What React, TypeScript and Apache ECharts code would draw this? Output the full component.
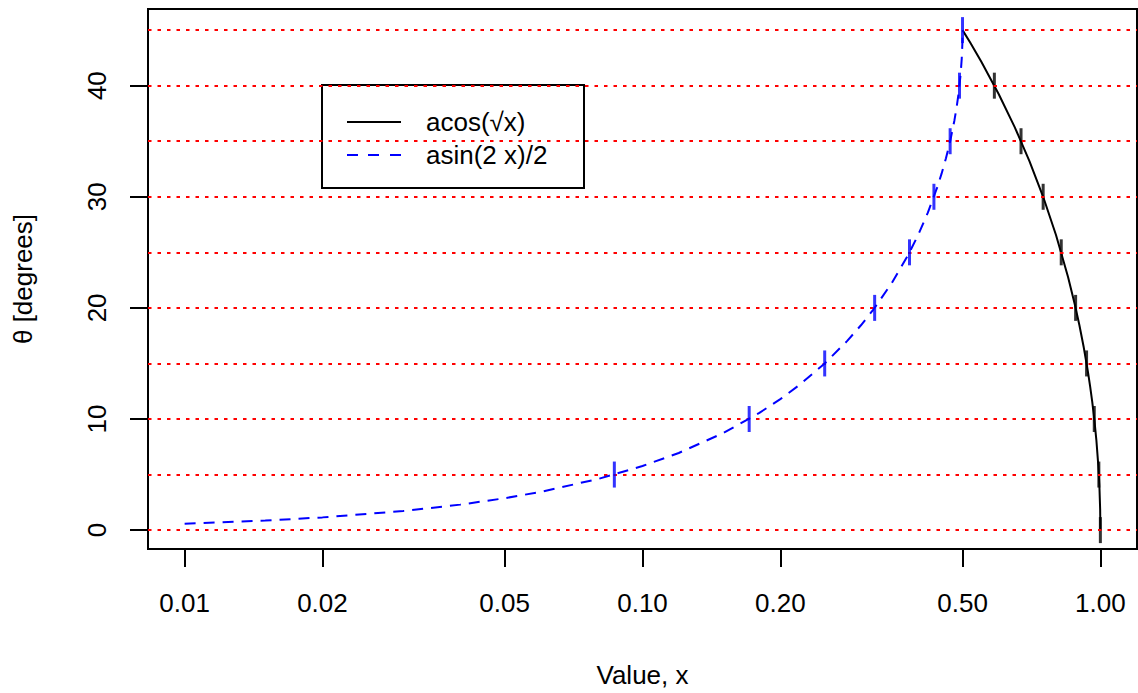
import React, { useEffect, useRef } from "react";
import * as echarts from "echarts";

// Curve readings (x value, theta in degrees)
const acosX = [0.5, 0.52, 0.55, 0.6, 0.65, 0.7, 0.75, 0.8, 0.85, 0.88, 0.9, 0.92, 0.94, 0.95, 0.96, 0.97, 0.98, 0.99, 0.995, 0.999, 1.0];
const acosY = [45, 43.854, 42.13, 39.232, 36.27, 33.211, 30, 26.565, 22.786, 20.268, 18.435, 16.43, 14.178, 12.921, 11.537, 9.974, 8.13, 5.739, 4.054, 1.812, 0];

const asinX = [0.01, 0.015, 0.02, 0.03, 0.04, 0.05, 0.06, 0.08, 0.1, 0.12, 0.15, 0.18, 0.2, 0.22, 0.25, 0.28, 0.3, 0.32, 0.35, 0.38, 0.4, 0.42, 0.44, 0.45, 0.46, 0.47, 0.48, 0.485, 0.49, 0.495, 0.498, 0.4995, 0.5];
const asinY = [0.573, 0.86, 1.146, 1.72, 2.294, 2.87, 3.446, 4.603, 5.768, 6.943, 8.729, 10.55, 11.789, 13.052, 15, 17.028, 18.435, 19.896, 22.213, 24.732, 26.565, 28.57, 30.821, 32.079, 33.463, 35.026, 36.87, 37.965, 39.261, 40.945, 42.437, 43.719, 45];

// Marked points at every 5 degrees
const acosMarkX = [0.5868, 0.671, 0.75, 0.8214, 0.883, 0.933, 0.9698, 0.9924, 1.0];
const acosMarkY = [40, 35, 30, 25, 20, 15, 10, 5, 0];
const asinMarkX = [0.0868, 0.171, 0.25, 0.3214, 0.383, 0.433, 0.4698, 0.4924, 0.5];
const asinMarkY = [5, 10, 15, 20, 25, 30, 35, 40, 45];

// Axes
const xTicks = [0.01, 0.02, 0.05, 0.1, 0.2, 0.5, 1.0];
const yTicks = [0, 10, 20, 30, 40];
const refLines = [0, 5, 10, 15, 20, 25, 30, 35, 40, 45];
const xMin = 0.008318;
const xMax = 1.2023;
const yMin = -1.7;
const yMax = 46.9;

const FONT = "'Liberation Sans', Arial, Helvetica, sans-serif";
const SOLID_ICON = "path://M0 0H54V2H0Z";
const DASH_ICON = "path://M0 0H11V2H0Z M21 0H32V2H21Z M43 0H54V2H43Z";

const zip = (xs: number[], ys: number[]) => xs.map((x, i) => [x, ys[i]]);

export default function App() {
  const ref = useRef<HTMLDivElement>(null);
  useEffect(() => {
    document.body.style.margin = "0";
    if (!ref.current) return;
    const chart = echarts.init(ref.current, undefined, { renderer: "svg" });
    chart.setOption({
      animation: false,
      backgroundColor: "#ffffff",
      textStyle: { fontFamily: FONT },
      grid: {
        left: 148,
        right: 1,
        top: 9,
        bottom: 141,
        show: true,
        borderColor: "#000000",
        borderWidth: 2,
        backgroundColor: "transparent",
      },
      legend: {
        left: 322,
        top: 85,
        orient: "vertical",
        data: [
          { name: "acos(√x)", icon: SOLID_ICON },
          { name: "asin(2 x)/2", icon: DASH_ICON },
        ],
        borderColor: "#000000",
        borderWidth: 2,
        backgroundColor: "#ffffff",
        padding: [24, 0, 20, 25],
        itemWidth: 54,
        itemHeight: 2,
        itemGap: 7,
        selectedMode: false,
        textStyle: {
          fontSize: 26,
          color: "#000000",
          fontFamily: FONT,
          lineHeight: 26,
          width: 158,
          padding: [0, 0, 0, 20],
        },
      },
      xAxis: {
        type: "log",
        logBase: 10,
        min: xMin,
        max: xMax,
        name: "Value, x",
        nameLocation: "middle",
        nameGap: 113,
        nameTextStyle: { fontSize: 26, color: "#000000", fontFamily: FONT },
        axisLine: { show: false, onZero: false },
        axisTick: { show: true, inside: false, length: 18, customValues: xTicks, lineStyle: { color: "#000000", width: 2 } },
        axisLabel: {
          customValues: xTicks,
          margin: 41,
          fontSize: 26,
          color: "#000000",
          fontFamily: FONT,
          formatter: (v: number) => v.toFixed(2),
        },
        splitLine: { show: false },
        minorTick: { show: false },
        minorSplitLine: { show: false },
      },
      yAxis: {
        type: "value",
        min: yMin,
        max: yMax,
        name: "θ [degrees]",
        nameLocation: "middle",
        nameRotate: 90,
        nameGap: 112,
        nameTextStyle: { fontSize: 26, color: "#000000", fontFamily: FONT },
        axisLine: { show: false, onZero: false },
        axisTick: { show: true, inside: false, length: 18, customValues: yTicks, lineStyle: { color: "#000000", width: 2 } },
        axisLabel: {
          customValues: yTicks,
          rotate: 90,
          margin: 38,
          fontSize: 26,
          color: "#000000",
          fontFamily: FONT,
        },
        splitLine: { show: false },
      },
      series: [
        {
          name: "refs",
          type: "line",
          data: [],
          z: 1,
          silent: true,
          markLine: {
            silent: true,
            symbol: ["none", "none"],
            label: { show: false },
            lineStyle: { color: "#ff0000", width: 2, type: [3.5, 6] },
            data: refLines.map((v) => ({ yAxis: v })),
          },
        },
        {
          name: "acos(√x)",
          type: "line",
          data: zip(acosX, acosY),
          showSymbol: false,
          symbol: "none",
          z: 3,
          itemStyle: { color: "#000000" },
          lineStyle: { color: "#000000", width: 2, type: "solid" },
        },
        {
          name: "acos-marks",
          type: "scatter",
          data: zip(acosMarkX, acosMarkY),
          symbol: "rect",
          symbolSize: [3, 26],
          z: 4,
          itemStyle: { color: "#000000" },
        },
        {
          name: "asin(2 x)/2",
          type: "line",
          data: zip(asinX, asinY),
          showSymbol: false,
          symbol: "none",
          z: 5,
          itemStyle: { color: "#0000ff" },
          lineStyle: { color: "#0000ff", width: 2, type: [11, 8] },
        },
        {
          name: "asin-marks",
          type: "scatter",
          data: zip(asinMarkX, asinMarkY),
          symbol: "rect",
          symbolSize: [3, 26],
          z: 6,
          itemStyle: { color: "#0000ff" },
        },
      ],
    });
    return () => chart.dispose();
  }, []);
  return <div ref={ref} style={{ width: 1138, height: 693 }} />;
}
